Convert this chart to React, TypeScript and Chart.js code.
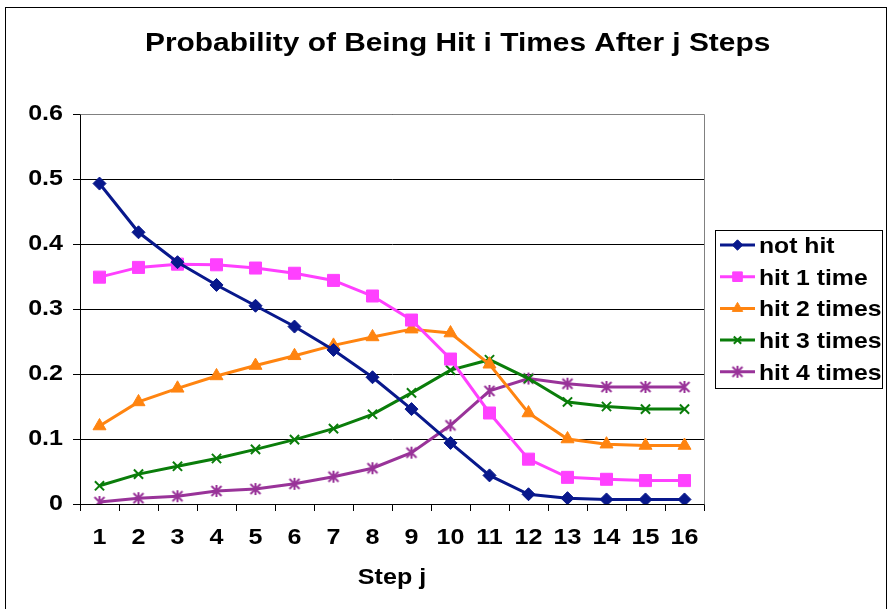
import React, { useEffect, useRef } from 'react';
import { Chart, registerables } from 'chart.js';
import { drawPoint } from 'chart.js/helpers';

Chart.register(...registerables);

// ---------- data ----------
const steps = ['1', '2', '3', '4', '5', '6', '7', '8', '9', '10', '11', '12', '13', '14', '15', '16'];
const notHit = [0.493, 0.418, 0.372, 0.337, 0.305, 0.273, 0.237, 0.195, 0.146, 0.094, 0.044, 0.015, 0.009, 0.007, 0.007, 0.007];
const hit1 = [0.349, 0.364, 0.369, 0.368, 0.363, 0.355, 0.344, 0.320, 0.283, 0.223, 0.140, 0.069, 0.041, 0.038, 0.036, 0.036];
const hit2 = [0.120, 0.157, 0.178, 0.197, 0.213, 0.228, 0.244, 0.257, 0.269, 0.263, 0.215, 0.140, 0.100, 0.092, 0.090, 0.090];
const hit3 = [0.028, 0.046, 0.058, 0.070, 0.084, 0.099, 0.116, 0.138, 0.171, 0.206, 0.222, 0.193, 0.157, 0.150, 0.146, 0.146];
const hit4 = [0.003, 0.009, 0.012, 0.020, 0.023, 0.031, 0.042, 0.055, 0.079, 0.121, 0.174, 0.193, 0.185, 0.180, 0.180, 0.180];
const seriesNames = ['not hit', 'hit 1 time', 'hit 2 times', 'hit 3 times', 'hit 4 times'];
const yMin = 0;
const yMax = 0.6;
const yStep = 0.1;
const titleText = 'Probability of Being Hit i Times After j Steps';
const xTitle = 'Step j';

const FONT = '"Liberation Sans", Arial, Helvetica, sans-serif';
const TEXT_STRETCH = 1.14;
const TITLE_STRETCH = 1.195;

function makeAsterisk(color: string, size: number) {
  const c = document.createElement('canvas');
  c.width = size;
  c.height = size;
  const g = c.getContext('2d')!;
  g.strokeStyle = color;
  g.lineWidth = 2;
  const m = size / 2;
  const a = 2;
  const b = size - 2;
  g.beginPath();
  g.moveTo(a, a);
  g.lineTo(b, b);
  g.moveTo(b, a);
  g.lineTo(a, b);
  g.moveTo(m, 1);
  g.lineTo(m, size - 1);
  g.stroke();
  return c;
}

// Text in the original is a horizontally widened Arial Bold: stretch every fillText around its anchor.
function patchContext(ctx: any) {
  if (ctx.__stretched) return;
  ctx.__stretched = true;
  ctx.__sx = TEXT_STRETCH;
  const orig = ctx.fillText.bind(ctx);
  ctx.fillText = (text: string, x: number, y: number, maxWidth?: number) => {
    const sx = ctx.__sx || 1;
    ctx.save();
    ctx.translate(x, y);
    ctx.scale(sx, 1);
    if (maxWidth !== undefined) orig(text, 0, 0, maxWidth / sx);
    else orig(text, 0, 0);
    ctx.restore();
  };
}

const frameAndTextPlugin = {
  id: 'frameAndText',
  beforeInit(chart: any) {
    patchContext(chart.ctx);
  },
  beforeDraw(chart: any) {
    const ctx = chart.ctx;
    patchContext(ctx);
    ctx.save();
    ctx.fillStyle = '#fff';
    ctx.fillRect(0, 0, chart.width, chart.height);
    ctx.restore();
  },
  beforeDatasetsDraw(chart: any) {
    const ctx = chart.ctx;
    const a = chart.chartArea;
    ctx.save();
    ctx.strokeStyle = '#808080';
    ctx.lineWidth = 1;
    ctx.beginPath();
    ctx.moveTo(Math.round(a.left) + 0.5, Math.round(a.top) + 0.5);
    ctx.lineTo(Math.round(a.right) + 0.5, Math.round(a.top) + 0.5);
    ctx.lineTo(Math.round(a.right) + 0.5, Math.round(a.bottom) + 0.5);
    ctx.stroke();
    ctx.restore();
  },
  afterDraw(chart: any) {
    const ctx = chart.ctx;
    ctx.save();
    // outer frame
    ctx.strokeStyle = '#000';
    ctx.lineWidth = 1;
    ctx.strokeRect(5.5, 7.5, 881, 700);
    // title
    ctx.__sx = TITLE_STRETCH;
    ctx.font = `bold 25px ${FONT}`;
    ctx.fillStyle = '#000';
    ctx.textAlign = 'left';
    ctx.textBaseline = 'alphabetic';
    ctx.fillText(titleText, 145, 51);
    ctx.__sx = TEXT_STRETCH;
    // legend
    ctx.strokeStyle = '#000';
    ctx.lineWidth = 1;
    ctx.strokeRect(715.5, 230.5, 167, 158);
    chart.data.datasets.forEach((ds: any, i: number) => {
      const y = 245 + i * 31.7;
      ctx.strokeStyle = ds.borderColor;
      ctx.lineWidth = 3;
      ctx.beginPath();
      ctx.moveTo(720, y);
      ctx.lineTo(755, y);
      ctx.stroke();
      ctx.fillStyle = ds.pointBackgroundColor;
      ctx.strokeStyle = ds.pointBorderColor;
      ctx.lineWidth = ds.pointBorderWidth;
      drawPoint(ctx, {
        pointStyle: ds.pointStyle,
        radius: ds.pointRadius * 0.8,
        rotation: 0,
        borderWidth: ds.pointBorderWidth,
      } as any, 737.5, y);
      ctx.__sx = 1.125;
      ctx.font = `bold 22px ${FONT}`;
      ctx.fillStyle = '#000';
      ctx.textAlign = 'left';
      ctx.textBaseline = 'alphabetic';
      ctx.fillText(ds.label, 759, y + 8);
      ctx.__sx = TEXT_STRETCH;
    });
    ctx.restore();
  },
};

export default function App() {
  const ref = useRef<HTMLCanvasElement | null>(null);

  useEffect(() => {
    document.body.style.margin = '0';
    const canvas = ref.current!;
    const asterisk = makeAsterisk('#993399', 14);
    const colors = ['#08188c', '#ff40ff', '#ff8410', '#0a7d0a', '#993399'];
    const values = [notHit, hit1, hit2, hit3, hit4];
    const styles: any[] = ['rectRot', 'rect', 'triangle', 'crossRot', asterisk];
    const radii = [6.5, 8.5, 7.5, 6.5, 7];
    const borderW = [1, 1, 1, 2, 1];

    const datasets = values.map((data, i) => ({
      label: seriesNames[i],
      data,
      borderColor: colors[i],
      backgroundColor: colors[i],
      borderWidth: 3,
      tension: 0,
      pointStyle: styles[i],
      pointRadius: radii[i],
      pointBorderWidth: borderW[i],
      pointBackgroundColor: colors[i],
      pointBorderColor: colors[i],
    }));

    const chart = new Chart(canvas, {
      type: 'line',
      data: { labels: steps, datasets },
      options: {
        animation: false,
        responsive: false,
        devicePixelRatio: 1,
        events: [],
        layout: { padding: { top: 114, right: 184, bottom: 0, left: 0 } },
        plugins: {
          legend: { display: false },
          title: { display: false },
          tooltip: { enabled: false },
        },
        scales: {
          x: {
            type: 'category',
            offset: true,
            grid: {
              display: true,
              drawOnChartArea: false,
              drawTicks: true,
              tickLength: 7,
              color: '#000',
              offset: true,
            },
            border: { display: true, color: '#000', width: 1 },
            ticks: {
              autoSkip: false,
              maxRotation: 0,
              minRotation: 0,
              color: '#000',
              padding: 14,
              font: { family: FONT, size: 22, weight: 'bold' },
            },
            title: {
              display: true,
              text: xTitle,
              color: '#000',
              font: { family: FONT, size: 22, weight: 'bold' },
              padding: { top: 0, bottom: 18 },
            },
            afterFit: (scale: any) => {
              scale.height = 105;
            },
          },
          y: {
            type: 'linear',
            min: yMin,
            max: yMax,
            grid: {
              display: true,
              drawOnChartArea: true,
              drawTicks: true,
              tickLength: 7,
              color: '#000',
            },
            border: { display: true, color: '#000', width: 1 },
            ticks: {
              stepSize: yStep,
              color: '#000',
              padding: 10,
              font: { family: FONT, size: 22, weight: 'bold' },
              callback: (v: any) => String(Math.round(Number(v) * 10) / 10),
            },
            afterFit: (scale: any) => {
              scale.width = 80;
            },
          },
        },
      } as any,
      plugins: [frameAndTextPlugin],
    });

    return () => {
      chart.destroy();
    };
  }, []);

  return (
    <div style={{ width: 888, height: 609, position: 'relative', background: '#fff' }}>
      <canvas ref={ref} width={888} height={609} style={{ display: 'block', width: 888, height: 609 }} />
    </div>
  );
}
